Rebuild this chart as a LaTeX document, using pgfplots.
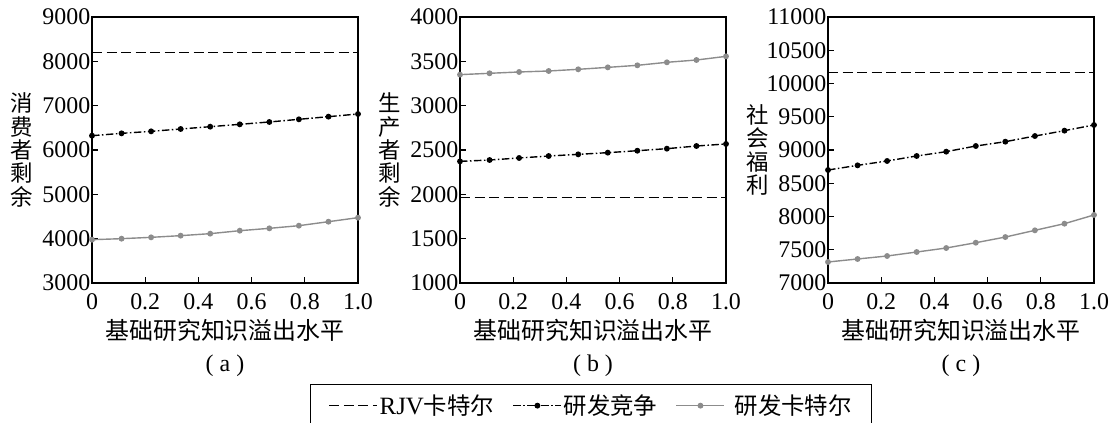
\documentclass[border=0pt]{standalone}
\usepackage{pgfplots}
\pgfplotsset{compat=1.18}
\usepackage{fontspec}
\setmainfont{Liberation Serif}
\newfontfamily\cjk{Noto Sans CJK SC}

\definecolor{rdgray}{RGB}{140,140,140}

% spillover levels 0, 1/9, ..., 1
\pgfplotstableread{
x       rjv    comp   cart
0.0000  8200   6323   3977
0.1111  8200   6376   4000
0.2222  8200   6421   4030
0.3333  8200   6474   4068
0.4444  8200   6526   4113
0.5556  8200   6579   4180
0.6667  8200   6632   4233
0.7778  8200   6692   4293
0.8889  8200   6752   4383
1.0000  8200   6812   4474
}\consumer
\pgfplotstableread{
x       rjv    comp   cart
0.0000  1962   2372   3350
0.1111  1962   2387   3365
0.2222  1962   2410   3380
0.3333  1962   2432   3391
0.4444  1962   2451   3410
0.5556  1962   2470   3432
0.6667  1962   2492   3455
0.7778  1962   2515   3489
0.8889  1962   2545   3515
1.0000  1962   2568   3556
}\producer
\pgfplotstableread{
x       rjv     comp   cart
0.0000  10165   8699   7316
0.1111  10165   8769   7361
0.2222  10165   8835   7406
0.3333  10165   8910   7466
0.4444  10165   8975   7526
0.5556  10165   9060   7606
0.6667  10165   9125   7691
0.7778  10165   9210   7792
0.8889  10165   9291   7892
1.0000  10165   9376   8023
}\welfare

% panel caption such as ( a )
\newcommand\panelcap[1]{(\hspace{6bp}#1\hspace{6bp})}

\pgfplotsset{
  panel/.style={
    scale only axis, width=266bp, height=266bp,
    xmin=0, xmax=1, scaled ticks=false,
    xtick={0,0.2,0.4,0.6,0.8,1}, xticklabels={0,0.2,0.4,0.6,0.8,1.0},
    tick align=inside, tick pos=left,
    major tick length=6bp,
    axis line style={line width=1.5bp},
    every tick/.style={black, line width=1.2bp},
    tick label style={font=\fontsize{24}{24}\selectfont},
    /pgf/number format/assume math mode=true,
    /pgf/number format/set thousands separator={},
    yticklabel style={inner sep=1.5bp},
    xticklabel style={inner sep=3bp, yshift=-7bp},
    xlabel={\cjk 基础研究知识溢出水平},
    xlabel style={at={(axis description cs:0.5,-0.1767)}, anchor=center,
      font=\fontsize{24}{24}\selectfont},
    ylabel style={at={(axis description cs:-0.263,0.5)}, anchor=center,
      rotate=-90, align=center, font=\fontsize{22.5}{23.5}\selectfont\cjk},
    title style={at={(axis description cs:0.5,-0.335)}, anchor=center,
      font=\fontsize{24}{24}\selectfont},
    clip=false,
  },
  rjv/.style={black, line width=1.4bp, dash pattern=on 10bp off 4.5bp},
  comp/.style={black, line width=1.4bp, dash pattern=on 7.5bp off 2.5bp on 1.5bp off 2.5bp,
    mark=*, mark size=2.2bp, mark options={solid}},
  cart/.style={rdgray, line width=1.4bp, mark=*, mark size=2.2bp,
    mark options={solid, fill=rdgray, draw=rdgray}},
}

\begin{document}
\begin{tikzpicture}
\useasboundingbox (0,0) rectangle (1114bp,-423bp);

% (a) consumer surplus
\begin{axis}[panel, at={(92bp,-17bp)}, anchor=north west,
  ymin=3000, ymax=9000, ytick={3000,4000,...,9000},
  ylabel={消\\费\\者\\剩\\余},
  title={\panelcap{a}}]
\addplot[rjv]  table[x=x, y=rjv]  {\consumer};
\addplot[comp] table[x=x, y=comp] {\consumer};
\addplot[cart] table[x=x, y=cart] {\consumer};
\end{axis}

% (b) producer surplus, carries the legend
\begin{axis}[panel, at={(460bp,-17bp)}, anchor=north west,
  ymin=1000, ymax=4000, ytick={1000,1500,...,4000},
  ylabel={生\\产\\者\\剩\\余},
  title={\panelcap{b}},
  legend columns=3,
  legend style={at={(axis description cs:0.4925,-0.3797)}, anchor=north,
    draw=black, line width=1bp, inner xsep=18bp, inner ysep=9bp,
    font=\fontsize{23.5}{23.5}\selectfont,
    nodes={inner sep=1.5bp},
    /tikz/every even column/.append style={column sep=17bp}},
  legend image code/.code={%
    \draw[mark repeat=2, mark phase=2, #1]
      plot coordinates {(0bp,0bp) (24bp,0bp) (48bp,0bp)};}]
\addplot[rjv]  table[x=x, y=rjv]  {\producer};
\addplot[comp] table[x=x, y=comp] {\producer};
\addplot[cart] table[x=x, y=cart] {\producer};
\legend{{\fontsize{25}{25}\selectfont RJV}{\cjk 卡特尔}, {\cjk 研发竞争}, {\cjk\hspace{8bp}研发卡特尔}}
\end{axis}

% (c) social welfare
\begin{axis}[panel, at={(828bp,-17bp)}, anchor=north west,
  ymin=7000, ymax=11000, ytick={7000,7500,...,11000},
  ylabel={社\\会\\福\\利},
  title={\panelcap{c}}]
\addplot[rjv]  table[x=x, y=rjv]  {\welfare};
\addplot[comp] table[x=x, y=comp] {\welfare};
\addplot[cart] table[x=x, y=cart] {\welfare};
\end{axis}
\end{tikzpicture}
\end{document}
